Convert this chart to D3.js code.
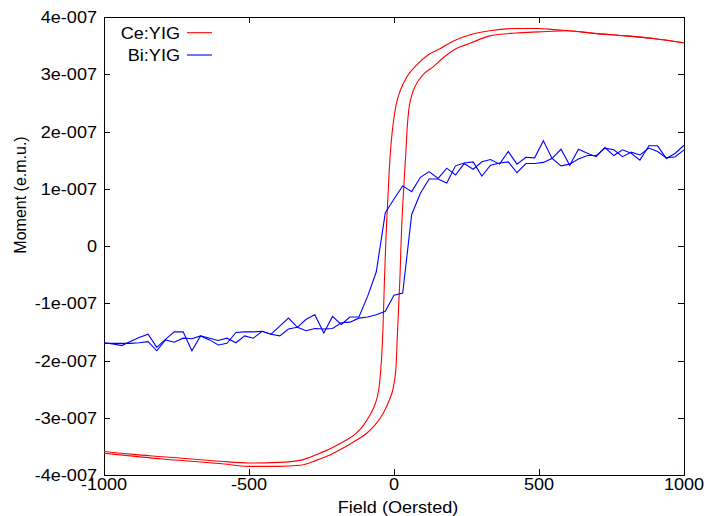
<!DOCTYPE html>
<html><head><meta charset="utf-8">
<script src="https://cdn.jsdelivr.net/npm/d3@7/dist/d3.min.js"></script>
<style>body{margin:0;background:#fff}svg{display:block}text{font-family:"Liberation Sans",Arial,sans-serif;fill:#000}</style>
</head><body><svg id="c" width="707" height="516"></svg>
<script>
// Field grid (Oe) for Bi:YIG
const biField = [-1000,-970,-939,-909,-879,-848,-818,-788,-758,-727,-697,-667,-636,-606,-576,-545,-515,-485,-455,-424,-394,-364,-333,-303,-273,-242,-212,-182,-152,-121,-91,-61,-30,0,30,61,91,121,152,182,212,242,273,303,333,364,394,424,455,485,515,545,576,606,636,667,697,727,758,788,818,848,879,909,939,970,1000];
// Moment in units of 1e-7 emu
const biDesc = [-1.69,-1.71,-1.74,-1.67,-1.60,-1.54,-1.77,-1.63,-1.50,-1.50,-1.83,-1.57,-1.64,-1.73,-1.70,-1.51,-1.50,-1.50,-1.49,-1.54,-1.40,-1.26,-1.42,-1.28,-1.20,-1.52,-1.23,-1.37,-1.24,-1.24,-0.88,-0.45,0.58,0.82,1.05,0.95,1.20,1.30,1.18,1.36,1.24,1.44,1.34,1.47,1.51,1.43,1.65,1.43,1.55,1.54,1.84,1.53,1.69,1.41,1.69,1.62,1.56,1.72,1.58,1.68,1.62,1.50,1.75,1.75,1.53,1.62,1.76];
const biAsc = [-1.70,-1.70,-1.70,-1.70,-1.69,-1.67,-1.83,-1.64,-1.68,-1.61,-1.62,-1.57,-1.61,-1.65,-1.61,-1.69,-1.57,-1.61,-1.49,-1.54,-1.57,-1.45,-1.42,-1.48,-1.44,-1.45,-1.44,-1.34,-1.33,-1.26,-1.24,-1.20,-1.14,-0.86,-0.82,0.55,0.92,1.17,1.17,1.10,1.40,1.45,1.47,1.22,1.41,1.45,1.47,1.28,1.44,1.44,1.46,1.53,1.40,1.43,1.52,1.58,1.58,1.71,1.68,1.56,1.64,1.59,1.71,1.65,1.54,1.56,1.68];
// Ce:YIG descending branch
const ceDescField = [-1000,-900,-800,-700,-600,-500,-400,-320,-260,-215,-175,-130,-105,-85,-68,-57,-49,-43,-38,-33,-28,-24,-20,-15,-9,-2,7,22,45,78,118,160,205,262,330,420,500,550,600,700,800,900,1000];
const ceDescM = [-3.59,-3.64,-3.68,-3.72,-3.76,-3.79,-3.78,-3.74,-3.63,-3.53,-3.42,-3.27,-3.13,-2.97,-2.80,-2.62,-2.36,-1.98,-1.45,-0.60,0.10,0.55,0.95,1.45,1.85,2.17,2.46,2.72,2.96,3.16,3.34,3.45,3.58,3.69,3.76,3.80,3.80,3.78,3.76,3.71,3.67,3.62,3.55];
// Ce:YIG ascending branch
const ceAscField = [-1000,-900,-800,-700,-600,-500,-400,-324,-267,-221,-175,-129,-94,-66,-37,-16,-2,7,11,16,21,24,27,30,35,40,45,51,60,75,100,135,175,215,262,330,420,500,600,700,800,900,1000];
const ceAscM = [-3.62,-3.67,-3.72,-3.76,-3.80,-3.85,-3.85,-3.83,-3.74,-3.65,-3.53,-3.39,-3.27,-3.13,-2.92,-2.69,-2.46,-2.11,-1.64,-1.06,-0.48,0.0,0.40,0.70,1.15,1.56,2.03,2.38,2.61,2.81,2.99,3.13,3.31,3.45,3.54,3.67,3.72,3.74,3.76,3.71,3.67,3.62,3.55];

const xTicks = [-1000,-500,0,500,1000];
const xTickLabels = ["-1000","-500","0","500","1000"];
const yTicks = [4,3,2,1,0,-1,-2,-3,-4];
const yTickLabels = ["4e-007","3e-007","2e-007","1e-007","0","-1e-007","-2e-007","-3e-007","-4e-007"];
const seriesNames = ["Ce:YIG","Bi:YIG"];
const seriesColors = ["#ff0000","#0000ff"];

const L=104,R=684,T=17,B=475, SX=1.13, FS=16;
const svg=d3.select("#c");
const x=d3.scaleLinear().domain([-1000,1000]).range([L,R]);
const y=d3.scaleLinear().domain([-4,4]).range([B,T]);
const line=d3.line().x(d=>x(d[0])).y(d=>y(d[1]));
const smooth=d3.line().x(d=>x(d[0])).y(d=>y(d[1])).curve(d3.curveMonotoneX);

function htext(tx,ty,str,anchor){
  svg.append("text").attr("transform",`translate(${tx},${ty}) scale(${SX},1)`)
    .attr("text-anchor",anchor).attr("font-size",FS).text(str);
}

// ticks (inward, mirrored)
const tl=6;
const g=svg.append("g").attr("stroke","#000").attr("stroke-width",1);
yTicks.forEach(v=>{
  const yy=Math.round(y(v))+0.5;
  g.append("line").attr("x1",L).attr("x2",L+tl).attr("y1",yy).attr("y2",yy);
  g.append("line").attr("x1",R-tl).attr("x2",R).attr("y1",yy).attr("y2",yy);
});
xTicks.forEach(v=>{
  const xx=Math.round(x(v))+0.5;
  g.append("line").attr("x1",xx).attr("x2",xx).attr("y1",B).attr("y2",B-tl);
  g.append("line").attr("x1",xx).attr("x2",xx).attr("y1",T).attr("y2",T+tl);
});
svg.append("rect").attr("x",L+0.5).attr("y",T+0.5).attr("width",R-L).attr("height",B-T)
  .attr("fill","none").attr("stroke","#000");

// data
const ceD=ceDescField.map((f,i)=>[f,ceDescM[i]]);
const ceA=ceAscField.map((f,i)=>[f,ceAscM[i]]);
const biD=biField.map((f,i)=>[f,biDesc[i]]);
const biA=biField.map((f,i)=>[f,biAsc[i]]);
[ceD,ceA].forEach(d=>svg.append("path").attr("d",smooth(d)).attr("fill","none").attr("stroke",seriesColors[0]).attr("stroke-width",1.1));
[biD,biA].forEach(d=>svg.append("path").attr("d",line(d)).attr("fill","none").attr("stroke",seriesColors[1]).attr("stroke-width",1.1));

// tick labels
yTicks.forEach((v,i)=>htext(97,y(v)+6,yTickLabels[i],"end"));
xTicks.forEach((v,i)=>htext(x(v),490,xTickLabels[i],"middle"));

// axis titles
htext(398,513,"Field (Oersted)","middle");
svg.append("text").attr("transform","translate(26,195) rotate(-90)").attr("text-anchor","middle")
  .attr("font-size",FS).text("Moment (e.m.u.)");

// legend
const ly=[32.7,55];
seriesNames.forEach((n,i)=>{
  htext(180,ly[i]+6,n,"end");
  svg.append("line").attr("x1",187).attr("x2",212).attr("y1",ly[i]).attr("y2",ly[i])
    .attr("stroke",seriesColors[i]).attr("stroke-width",1.1);
});
</script></body></html>
